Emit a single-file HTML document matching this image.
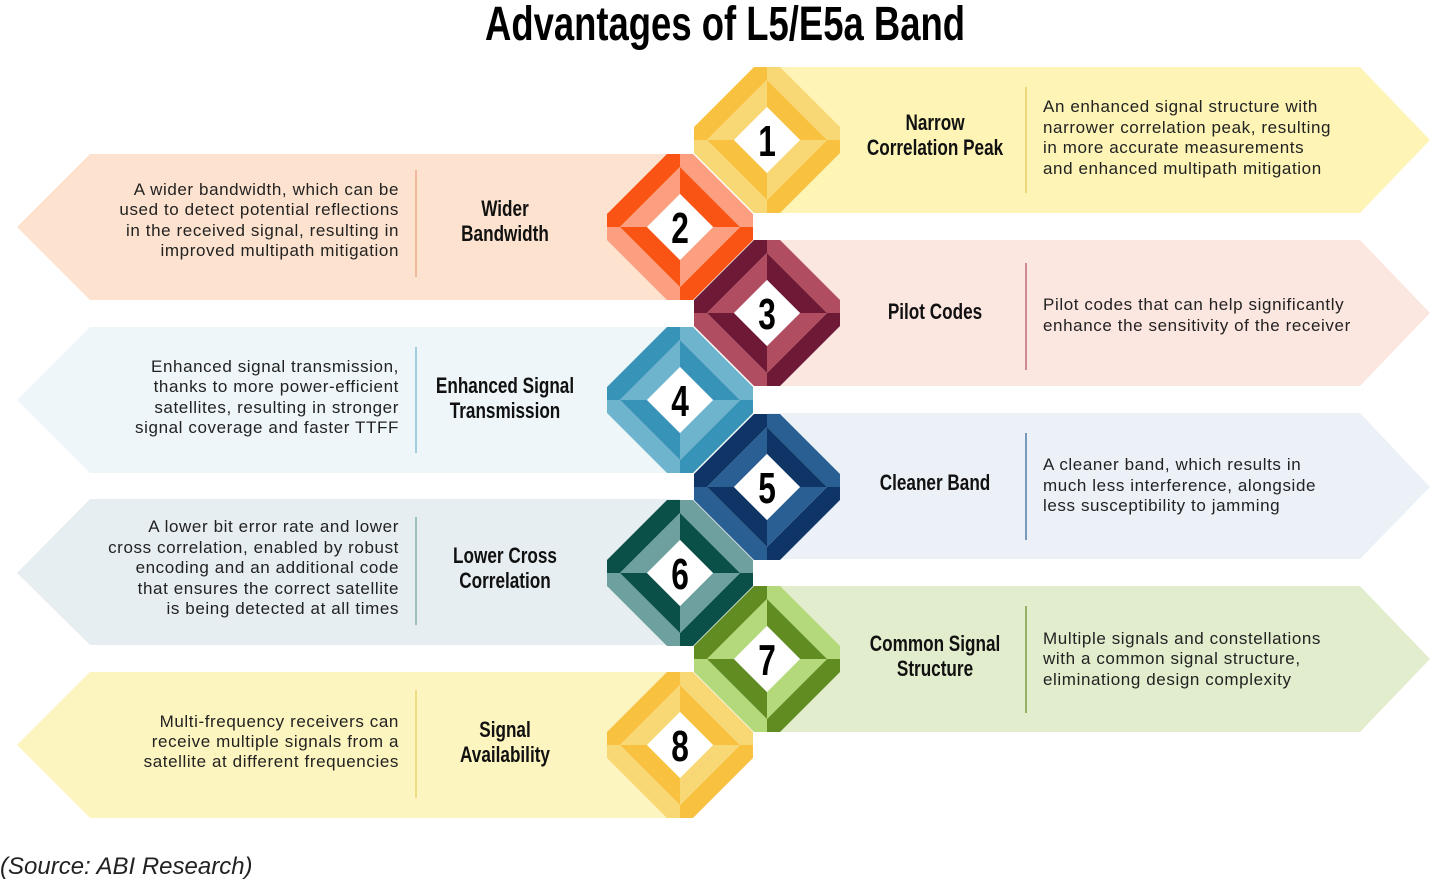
<!DOCTYPE html>
<html><head><meta charset="utf-8"><style>
html,body{margin:0;padding:0;background:#fff;}
svg{display:block}
.t{font-family:"Liberation Sans Narrow","Liberation Sans",sans-serif;font-weight:bold;font-size:22px;fill:#111;text-anchor:middle}
.d{font-family:"Liberation Sans",sans-serif;font-size:17px;letter-spacing:0.6px;fill:#222}
.l{text-anchor:end}
.n{font-family:"Liberation Sans Narrow","Liberation Sans",sans-serif;font-weight:bold;font-size:44px;fill:#000;text-anchor:middle}
.A{fill:var(--a)}.B{fill:var(--b)}
</style></head><body>
<svg width="1430" height="882" viewBox="0 0 1430 882" xmlns="http://www.w3.org/2000/svg">
<defs>
<clipPath id="cl"><rect x="-73" y="-73" width="146" height="146"/></clipPath>
<g id="dm"><g clip-path="url(#cl)">
<polygon class="A" points="-86,0 0,-86 0,-60 -60,0"/>
<polygon class="B" points="0,-86 86,0 60,0 0,-60"/>
<polygon class="A" points="86,0 0,86 0,60 60,0"/>
<polygon class="B" points="0,86 -86,0 -60,0 0,60"/>
<polygon class="B" points="-60,0 0,-60 0,-33 -33,0"/>
<polygon class="A" points="0,-60 60,0 33,0 0,-33"/>
<polygon class="B" points="60,0 0,60 0,33 33,0"/>
<polygon class="A" points="0,60 -60,0 -33,0 0,33"/>
<polygon fill="#fff" points="0,-33 33,0 0,33 -33,0"/>
</g></g>
</defs>
<text x="725" y="40" textLength="480" lengthAdjust="spacingAndGlyphs" style="font-family:'Liberation Sans Narrow','Liberation Sans',sans-serif;font-weight:bold;font-size:48px;text-anchor:middle;fill:#000">Advantages of L5/E5a Band</text>

<polygon fill="#fdf4b6" points="767,67 1360,67 1430,140 1360,213 767,213"/>
<polygon fill="#fce6e0" points="767,240 1360,240 1430,313 1360,386 767,386"/>
<polygon fill="#ecf1f8" points="767,413 1360,413 1430,487 1360,559 767,559"/>
<polygon fill="#e2edcd" points="767,586 1360,586 1430,659 1360,732 767,732"/>
<polygon fill="#fde3cf" points="680,154 90,154 17,227 90,300 680,300"/>
<polygon fill="#eef6f9" points="680,327 90,327 17,400 90,473 680,473"/>
<polygon fill="#e6eef2" points="680,499 90,499 17,573 90,645 680,645"/>
<polygon fill="#fdf5bf" points="680,672 90,672 17,745 90,818 680,818"/>

<line x1="1026" y1="87" x2="1026" y2="193" stroke="#e2c65a" stroke-width="1.2"/>
<line x1="1026" y1="263" x2="1026" y2="370" stroke="#b04d61" stroke-width="1.2"/>
<line x1="1026" y1="433" x2="1026" y2="540" stroke="#2a5f93" stroke-width="1.2"/>
<line x1="1026" y1="606" x2="1026" y2="713" stroke="#608c22" stroke-width="1.2"/>
<line x1="416" y1="170" x2="416" y2="277" stroke="#e8a07a" stroke-width="1.2"/>
<line x1="416" y1="347" x2="416" y2="453" stroke="#6db4cc" stroke-width="1.2"/>
<line x1="416" y1="517" x2="416" y2="625" stroke="#6ea0a0" stroke-width="1.2"/>
<line x1="416" y1="690" x2="416" y2="798" stroke="#e8cf60" stroke-width="1.2"/>

<use href="#dm" transform="translate(767,140)" style="--a:#f9c140;--b:#f8d874"/>
<use href="#dm" transform="translate(680,227)" style="--a:#fa5414;--b:#fc9f80"/>
<use href="#dm" transform="translate(767,313)" style="--a:#6e1a36;--b:#b04d61"/>
<use href="#dm" transform="translate(680,400)" style="--a:#3794b8;--b:#6db4cc"/>
<use href="#dm" transform="translate(767,487)" style="--a:#0f3566;--b:#2a5f93"/>
<use href="#dm" transform="translate(680,573)" style="--a:#0a5049;--b:#6ea0a0"/>
<use href="#dm" transform="translate(767,659)" style="--a:#608c22;--b:#b3d97a"/>
<use href="#dm" transform="translate(680,745)" style="--a:#f9c140;--b:#f8d874"/>

<text class="n" transform="translate(767,156) scale(0.72,1)">1</text>
<text class="n" transform="translate(680,243) scale(0.72,1)">2</text>
<text class="n" transform="translate(767,329) scale(0.72,1)">3</text>
<text class="n" transform="translate(680,416) scale(0.72,1)">4</text>
<text class="n" transform="translate(767,503) scale(0.72,1)">5</text>
<text class="n" transform="translate(680,589) scale(0.72,1)">6</text>
<text class="n" transform="translate(767,675) scale(0.72,1)">7</text>
<text class="n" transform="translate(680,761) scale(0.72,1)">8</text>

<text class="t" transform="translate(935,130) scale(0.78,1)">Narrow</text>
<text class="t" transform="translate(935,155) scale(0.78,1)">Correlation Peak</text>
<text class="d" x="1043" y="112">An enhanced signal structure with</text>
<text class="d" x="1043" y="133">narrower correlation peak, resulting</text>
<text class="d" x="1043" y="153">in more accurate measurements</text>
<text class="d" x="1043" y="174">and enhanced multipath mitigation</text>

<text class="t" transform="translate(935,319) scale(0.78,1)">Pilot Codes</text>
<text class="d" x="1043" y="310">Pilot codes that can help significantly</text>
<text class="d" x="1043" y="331">enhance the sensitivity of the receiver</text>

<text class="t" transform="translate(935,490) scale(0.78,1)">Cleaner Band</text>
<text class="d" x="1043" y="470">A cleaner band, which results in</text>
<text class="d" x="1043" y="491">much less interference, alongside</text>
<text class="d" x="1043" y="511">less susceptibility to jamming</text>

<text class="t" transform="translate(935,651) scale(0.78,1)">Common Signal</text>
<text class="t" transform="translate(935,676) scale(0.78,1)">Structure</text>
<text class="d" x="1043" y="644">Multiple signals and constellations</text>
<text class="d" x="1043" y="664">with a common signal structure,</text>
<text class="d" x="1043" y="685">eliminationg design complexity</text>

<text class="t" transform="translate(505,216) scale(0.78,1)">Wider</text>
<text class="t" transform="translate(505,241) scale(0.78,1)">Bandwidth</text>
<text class="d l" x="399" y="195">A wider bandwidth, which can be</text>
<text class="d l" x="399" y="215">used to detect potential reflections</text>
<text class="d l" x="399" y="236">in the received signal, resulting in</text>
<text class="d l" x="399" y="256">improved multipath mitigation</text>

<text class="t" transform="translate(505,393) scale(0.78,1)">Enhanced Signal</text>
<text class="t" transform="translate(505,418) scale(0.78,1)">Transmission</text>
<text class="d l" x="399" y="372">Enhanced signal transmission,</text>
<text class="d l" x="399" y="392">thanks to more power-efficient</text>
<text class="d l" x="399" y="413">satellites, resulting in stronger</text>
<text class="d l" x="399" y="433">signal coverage and faster TTFF</text>

<text class="t" transform="translate(505,563) scale(0.78,1)">Lower Cross</text>
<text class="t" transform="translate(505,588) scale(0.78,1)">Correlation</text>
<text class="d l" x="399" y="532">A lower bit error rate and lower</text>
<text class="d l" x="399" y="553">cross correlation, enabled by robust</text>
<text class="d l" x="399" y="573">encoding and an additional code</text>
<text class="d l" x="399" y="594">that ensures the correct satellite</text>
<text class="d l" x="399" y="614">is being detected at all times</text>

<text class="t" transform="translate(505,737) scale(0.78,1)">Signal</text>
<text class="t" transform="translate(505,762) scale(0.78,1)">Availability</text>
<text class="d l" x="399" y="727">Multi-frequency receivers can</text>
<text class="d l" x="399" y="747">receive multiple signals from a</text>
<text class="d l" x="399" y="767">satellite at different frequencies</text>

<text x="0" y="874" style="font-family:'Liberation Sans',sans-serif;font-style:italic;font-size:24px;fill:#222">(Source: ABI Research)</text>
</svg>
</body></html>
